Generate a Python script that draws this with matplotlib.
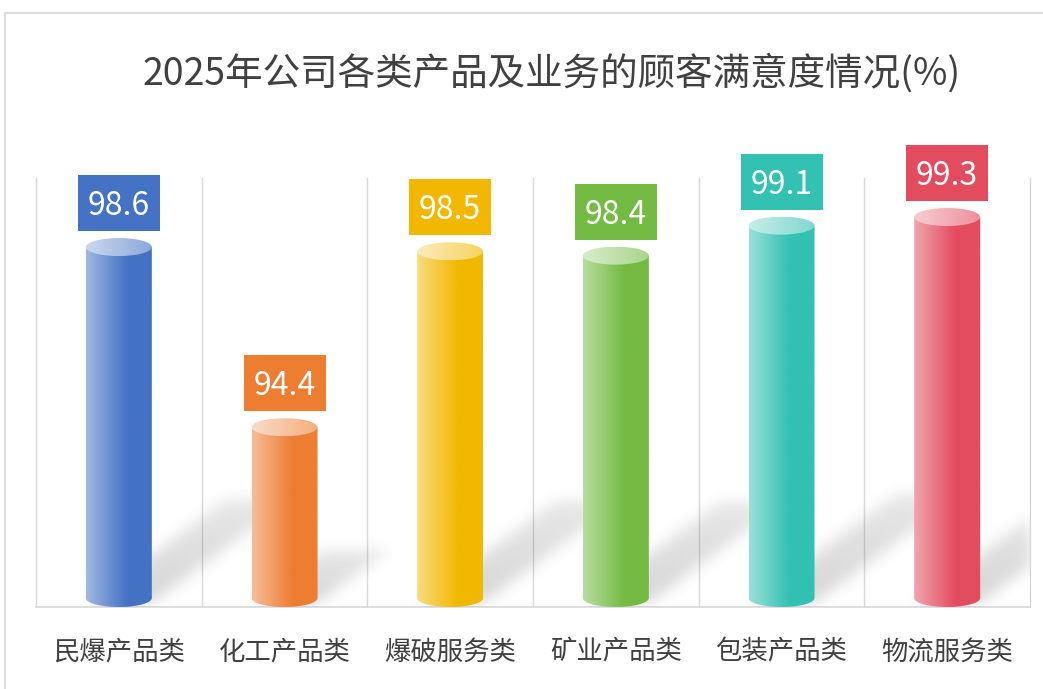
import numpy as np
import matplotlib
matplotlib.use('Agg')
import matplotlib.pyplot as plt
from matplotlib.patches import Ellipse, Rectangle, PathPatch
from matplotlib.path import Path
import matplotlib.colors as mcolors

plt.rcParams['font.family'] = ['Noto Sans CJK SC', 'DejaVu Sans']

title = '2025年公司各类产品及业务的顾客满意度情况(%)'
categories = ['民爆产品类', '化工产品类', '爆破服务类', '矿业产品类', '包装产品类', '物流服务类']
values = [98.6, 94.4, 98.5, 98.4, 99.1, 99.3]
colors = ['#4472C4', '#ED7D31', '#F2B800', '#74BB43', '#32C1B2', '#E34C5F']
y_min, y_max = 90, 100

W, H = 1043, 689
fig = plt.figure(figsize=(W / 100, H / 100), dpi=100)
ax_l, ax_r, ax_t, ax_b = 36, 1030, 178, 607
ax = fig.add_axes([ax_l / W, 1 - ax_b / H, (ax_r - ax_l) / W, (ax_b - ax_t) / H])
n = len(categories)
ax.set_xlim(-0.5, n - 0.5)
ax.set_ylim(y_min, y_max)
ax.axis('off')

pxx = (ax_r - ax_l) / n
pxy = (ax_b - ax_t) / (y_max - y_min)
bar_px = 66
bar_w = bar_px / pxx
r = 9 / pxy
grid_c = '#d9d9d9'

# grid lines
for k in range(n + 1):
    ax.plot([k - 0.5, k - 0.5], [y_min, y_max], color=grid_c, lw=1, zorder=0, clip_on=False)
ax.plot([-0.5, n - 0.5], [y_min, y_min], color=grid_c, lw=1.2, zorder=0.5, clip_on=False)

# soft shadows
nx, ny = int(ax_r - ax_l), int(ax_b - ax_t)
X, Y = np.meshgrid(np.arange(nx) + 0.5, np.arange(ny) + 0.5)
shadow = np.zeros_like(X)
for i, v in enumerate(values):
    cx = (i + 0.5) * pxx
    xl = cx - bar_px / 2
    hpx = (v - y_min) * pxy
    Dx, Dy = 0.38 * hpx, 0.28 * hpx
    t = (Y - 4) / Dy
    s = (X - xl - t * Dx) / bar_px
    m = (t >= 0) & (t <= 1) & (s >= 0) & (s <= 1)
    val = np.where(m, 1.0 - 0.4 * t, 0.0)
    shadow = np.maximum(shadow, val)


def blur(a, sig):
    k = np.arange(-3 * sig, 3 * sig + 1)
    g = np.exp(-k ** 2 / (2.0 * sig * sig))
    g /= g.sum()
    a = np.apply_along_axis(lambda row: np.convolve(row, g, mode='same'), 1, a)
    a = np.apply_along_axis(lambda col: np.convolve(col, g, mode='same'), 0, a)
    return a


shadow = blur(shadow, 7)
rgba = np.zeros((ny, nx, 4))
rgba[..., :3] = 0.2
rgba[..., 3] = 0.2 * shadow
ax.imshow(rgba, extent=[-0.5, n - 0.5, y_min, y_max], origin='lower',
          aspect='auto', zorder=1, interpolation='bilinear')

# cylinders
u = np.linspace(0, 1, 200)
for i, (v, c) in enumerate(zip(values, colors)):
    rgb = np.array(mcolors.to_rgb(c))
    xl, xr = i - bar_w / 2, i + bar_w / 2
    f = np.clip(u / 0.62, 0, 1)
    light = rgb + (1 - rgb) * 0.5
    grad = light[None, :] * (1 - f[:, None]) + rgb[None, :] * f[:, None]
    yb_c = y_min + r
    yt_c = v - r
    th = np.linspace(0, -np.pi, 80)
    arc = np.column_stack([i + bar_w / 2 * np.cos(th), yb_c + r * np.sin(th)])
    verts = np.vstack([[[xl, yt_c], [xr, yt_c]], arc, [[xl, yt_c]]])
    body = PathPatch(Path(verts), facecolor='none', edgecolor='none', zorder=3)
    ax.add_patch(body)
    im = ax.imshow(grad[None, :, :], extent=[xl, xr, y_min, yt_c], aspect='auto',
                   zorder=3, interpolation='bilinear')
    im.set_clip_path(body)

    # top ellipse
    top = Ellipse((i, yt_c), bar_w, 2 * r, facecolor='none', edgecolor='none', zorder=4)
    ax.add_patch(top)
    l1 = rgb + (1 - rgb) * 0.72
    l2 = rgb + (1 - rgb) * 0.38
    g2 = l1[None, :] * (1 - u[:, None]) + l2[None, :] * u[:, None]
    im2 = ax.imshow(g2[None, :, :], extent=[xl, xr, yt_c - r, yt_c + r], aspect='auto',
                    zorder=4, interpolation='bilinear')
    im2.set_clip_path(top)

    # value label box
    bw, bh = 82 / pxx, 56 / pxy
    bb = v + 7 / pxy
    ax.add_patch(Rectangle((i - bw / 2, bb), bw, bh, facecolor=c, edgecolor='none',
                           zorder=5, clip_on=False))
    ax.text(i, bb + 16 / pxy, f'{v:.1f}', ha='center', va='baseline', color='white',
            fontsize=23, zorder=6, clip_on=False)

    # category label
    ax.text(i, y_min - 45 / pxy, categories[i], ha='center', va='center',
            fontsize=19, color='#404040', clip_on=False)

ax.set_xlim(-0.5, n - 0.5)
ax.set_ylim(y_min, y_max)

fig.text(552 / W, 1 - 85 / H, title, ha='center', va='baseline', fontsize=27, color='#404040')

fig.add_artist(Rectangle((5 / W, -0.1), 1.2, (1 - 13 / H) + 0.1, transform=fig.transFigure,
                         fill=False, edgecolor='#dedede', lw=1.5))

fig.savefig('out.png', dpi=100)
